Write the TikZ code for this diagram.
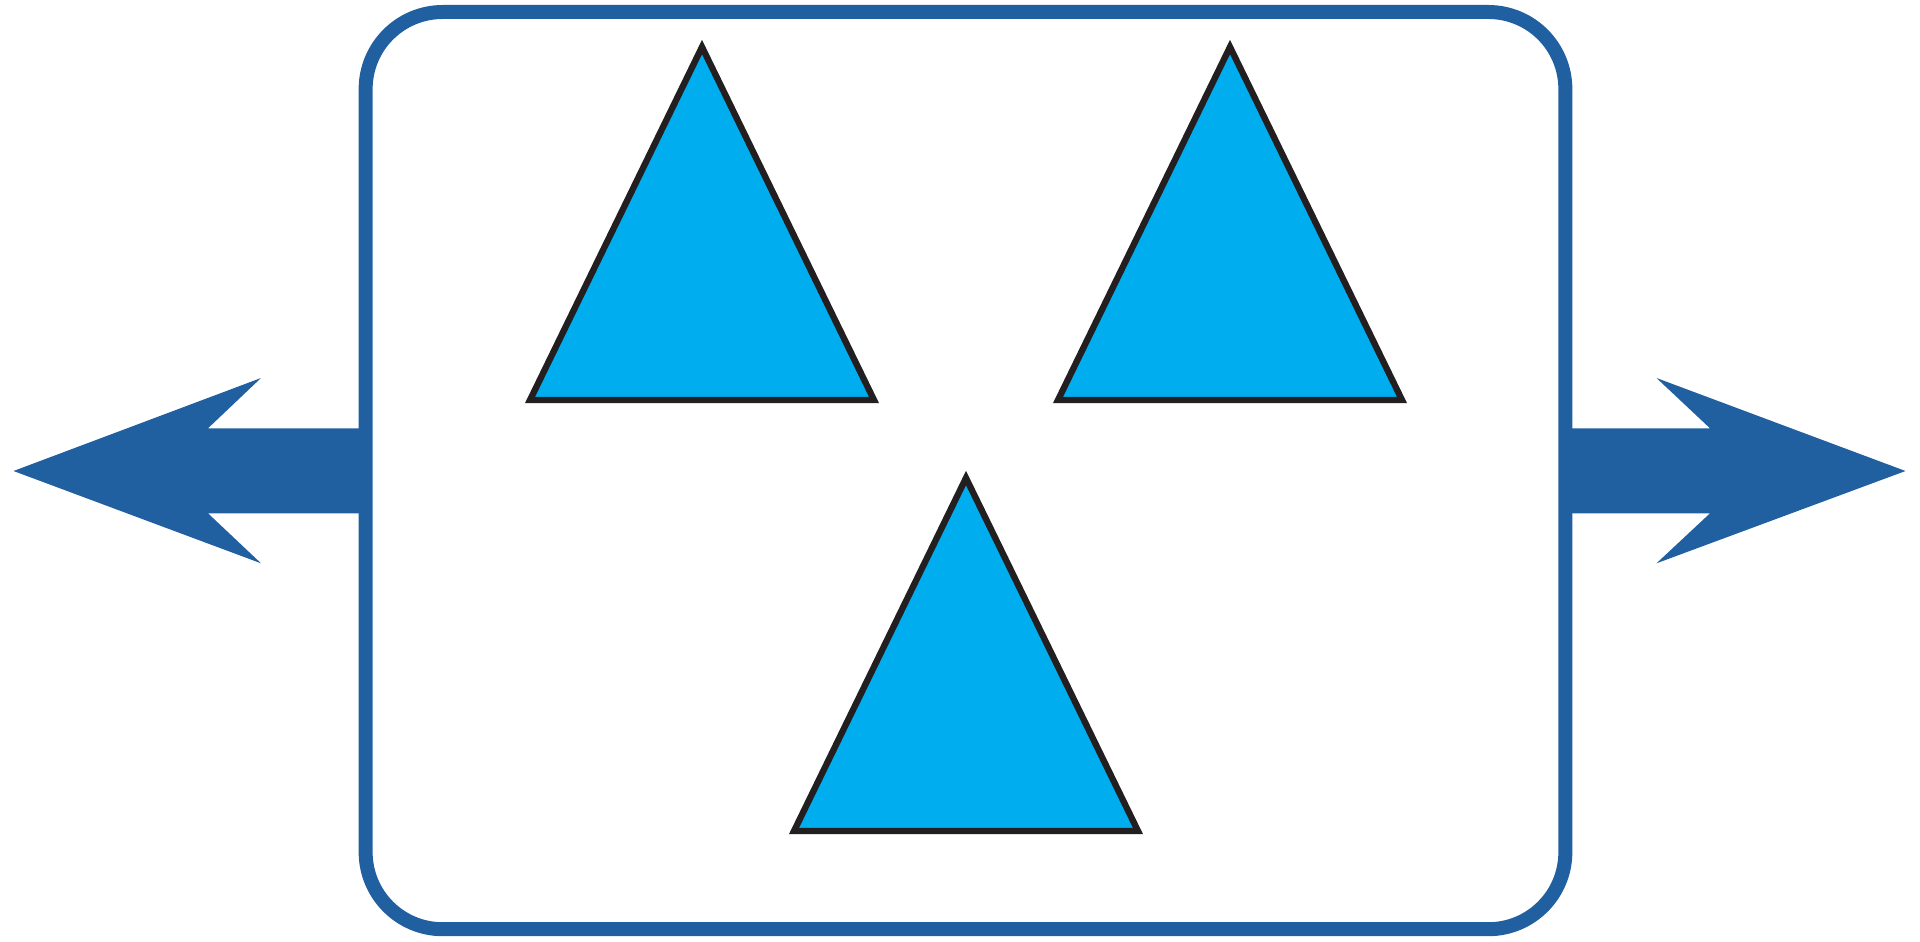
\documentclass[tikz,border=0pt]{standalone}
\usepackage{tikz}
\usetikzlibrary{positioning}
\definecolor{symBlue}{HTML}{2160A0}
\definecolor{symCyan}{HTML}{00AEEF}
\definecolor{symInk}{HTML}{231F20}
\tikzset{
  panel/.style={draw=symBlue, line width=3.98pt, fill=white,
              rounded corners=7.7mm, inner sep=0pt},
  tri/.style={draw=symInk, fill=symCyan, line width=1.8pt, line join=miter},
  blockarrow/.style={fill=symBlue, draw=none},
}

\begin{document}
\begin{tikzpicture}[x=0.01cm,y=-0.01cm]
    \useasboundingbox (0,0) rectangle (1920,942);
    % double block arrow, sits behind the panel
    \coordinate (tipL) at (13.5,471);
    \coordinate (tipR) at (1905.5,471);
    \fill[blockarrow] (tipL) -- (261,378) -- (208,428.3) -- (1710,428.3)
      -- (1656.5,378) -- (tipR) -- (1656.5,563.3) -- (1710,513.3)
      -- (208,513.3) -- (261,563.3) -- cycle;
    \node[panel,minimum width=11.99cm,minimum height=9.167cm] (panel)
      at (965.5,470.6) {};
    % three triangles
    \foreach \cx/\by in {702/400,1230/400,966/831}
      \draw[tri] (\cx-172,\by) -- (\cx+172,\by) -- (\cx,\by-353) -- cycle;
  \end{tikzpicture}
\end{document}
